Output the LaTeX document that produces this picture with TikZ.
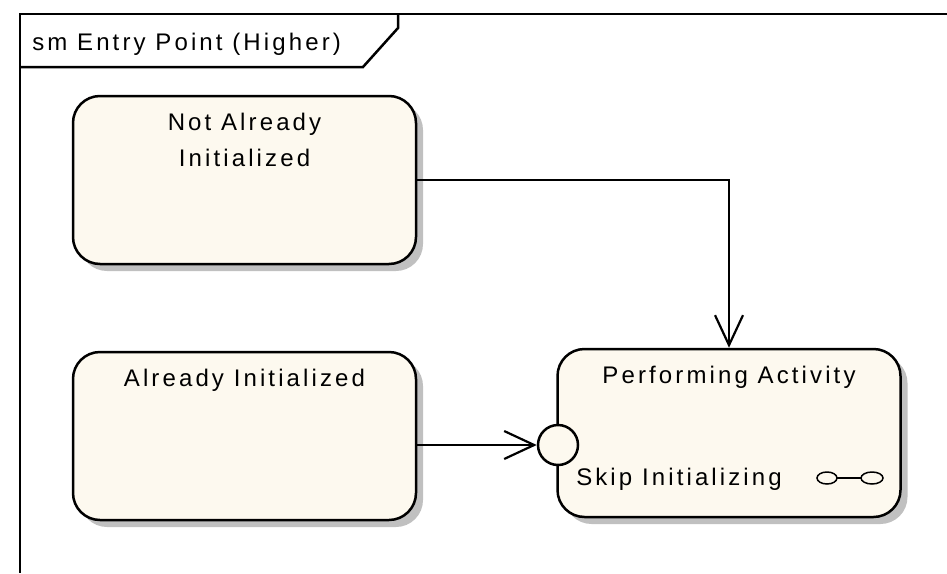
\documentclass[tikz,border=0pt]{standalone}
\usepackage{fontspec}
\setmainfont{Liberation Sans}[LetterSpace=13]
\usepackage{tikz}
\usetikzlibrary{arrows.meta}
\usetikzlibrary{calc}
\usetikzlibrary{shadows}

\definecolor{statefill}{HTML}{FDF9EF}
\definecolor{shadowgray}{HTML}{C0C0C0}

\begin{document}
\begin{tikzpicture}[x=1pt, y=-1pt, line width=2.5pt, font=\fontsize{24}{36}\selectfont,
        state_style/.style={rectangle,draw=black,fill=statefill,rounded corners=27pt,minimum width=343pt,minimum height=168pt,inner sep=0pt,
            drop shadow={shadow xshift=7pt,shadow yshift=-7pt,fill=shadowgray,opacity=1}},
        state_label/.style={anchor=north,align=center,yshift=-14pt},
        entry_style/.style={circle,draw=black,fill=statefill,minimum size=40pt,inner sep=0pt},
        text_style/.style={anchor=base west,inner sep=0pt},
        edge_style/.style={draw=black,line width=2.2pt,-{Straight Barb[length=30pt,width=28pt]}}]

        \useasboundingbox (0,0) rectangle (947,573);

        % frame and its name tab
        \draw (947,14) -- (20,14) -- (20,573);

        \draw (20,67) -- (363,67) -- (398,28) -- (398,14);

        \node [text_style](title) at (31,50) {sm Entry Point (Higher)};

        % states
        \node [state_style,label={[state_label]north:Not Already\\Initialized}](notyet) at (244.5,180) {};

        \node [state_style,label={[state_label]north:Already Initialized}](already) at (244.5,436) {};

        \node [state_style,label={[state_label]north:Performing Activity}](perform) at (729,433) {};

        \node [entry_style](entry) at (558,445) {};

        \node [text_style](skip) at (575,485) {Skip Initializing};

        % composite state icon
        \draw [line width=1.5pt] (827,478) ellipse [x radius=10, y radius=6];

        \draw [line width=1.5pt] (872,478) ellipse [x radius=11, y radius=6];

        \draw [line width=1.5pt] (837,478) -- (861,478);

        % transitions
        \draw [edge_style] (notyet.east) -| (perform.north);

        \draw [edge_style] (already.east |- entry) -- (entry);

        \end{tikzpicture}
\end{document}
